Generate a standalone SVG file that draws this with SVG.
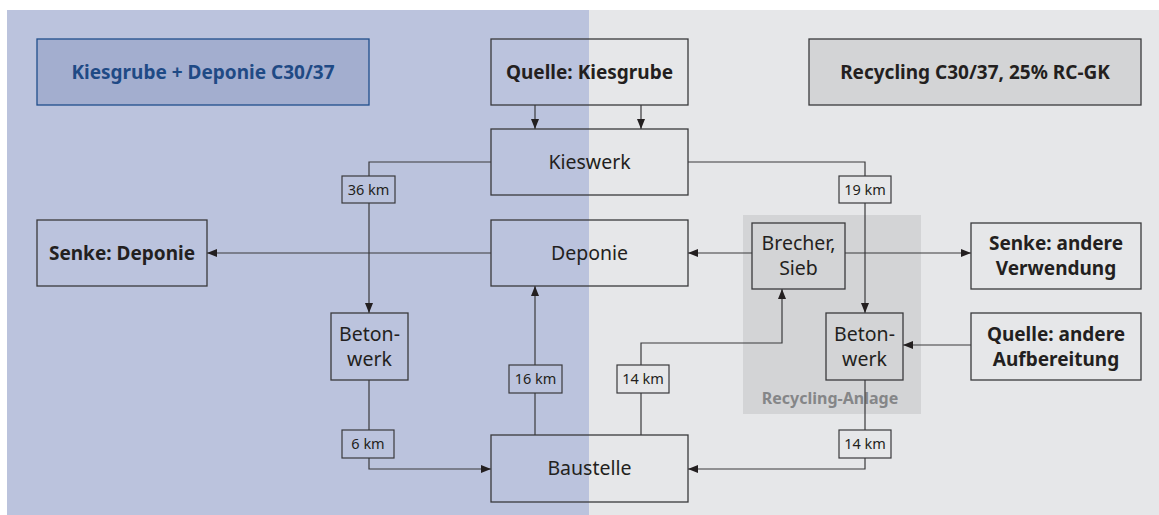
<svg xmlns="http://www.w3.org/2000/svg" width="1159" height="515" viewBox="0 0 1159 515">
<defs>
<marker id="arr" viewBox="0 0 10 10" refX="10" refY="5" markerWidth="10" markerHeight="10" markerUnits="userSpaceOnUse" orient="auto">
<path d="M0,1 L10,5 L0,9 Z" fill="#231f20"/>
</marker>
<style>
.box{fill:none;stroke:#3a3a3c;stroke-width:1.3}
.lbl{fill:#e6e7e9;stroke:#3a3a3c;stroke-width:1.2}
.lblb{fill:#bbc3dd;stroke:#3a3a3c;stroke-width:1.2}
.con{fill:none;stroke:#3a3a3c;stroke-width:1.2}
.t{font-family:"Noto Sans","Open Sans",sans-serif;font-size:19.5px;fill:#231f20;text-anchor:middle}
.b{font-family:"Noto Sans","Open Sans",sans-serif;font-size:19px;font-weight:bold;fill:#231f20;text-anchor:middle}
.s{font-family:"Noto Sans","Open Sans",sans-serif;font-size:14.5px;fill:#231f20;text-anchor:middle}
</style>
</defs>
<rect x="0" y="0" width="1159" height="515" fill="#ffffff"/>
<rect x="7" y="10" width="582" height="505" fill="#bbc3dd"/>
<rect x="589" y="10" width="570" height="505" fill="#e6e7e9"/>
<g id="recycling-anlage">
<rect x="743" y="215" width="178" height="199" fill="#d3d4d6"/>
<text x="830" y="404" class="b" style="fill:#858688;font-size:16px">Recycling-Anlage</text>
</g>
<g id="connectors">
<path class="con" d="M535,105 V129" marker-end="url(#arr)"/>
<path class="con" d="M641,105 V129" marker-end="url(#arr)"/>
<path class="con" d="M491,162 H369 V313" marker-end="url(#arr)"/>
<path class="con" d="M491,253 H207" marker-end="url(#arr)"/>
<path class="con" d="M369,380 V469 H491" marker-end="url(#arr)"/>
<path class="con" d="M535,435 V286" marker-end="url(#arr)"/>
<path class="con" d="M641,435 V343 H782 V289" marker-end="url(#arr)"/>
<path class="con" d="M688,162 H865 V313" marker-end="url(#arr)"/>
<path class="con" d="M752,253 H688" marker-end="url(#arr)"/>
<path class="con" d="M845,253 H971" marker-end="url(#arr)"/>
<path class="con" d="M971,345 H903" marker-end="url(#arr)"/>
<path class="con" d="M865,380 V469 H688" marker-end="url(#arr)"/>
<rect class="lblb" x="342" y="176" width="53" height="27"/>
<text class="s" x="368.5" y="195">36 km</text>
<rect class="lbl" x="839" y="176" width="52" height="27"/>
<text class="s" x="865" y="195">19 km</text>
<rect class="lblb" x="342" y="430" width="52" height="28"/>
<text class="s" x="368" y="449">6 km</text>
<rect class="lblb" x="509" y="365" width="53" height="28"/>
<text class="s" x="535.5" y="384">16 km</text>
<rect class="lbl" x="617" y="365" width="52" height="28"/>
<text class="s" x="643" y="384">14 km</text>
<rect class="lbl" x="839" y="430" width="52" height="28"/>
<text class="s" x="865" y="449">14 km</text>
</g>
<g id="title-left">
<rect x="37" y="39" width="332" height="66" fill="#a3aecf" stroke="#1f4e8c" stroke-width="1.3"/>
<text class="b" x="203" y="79" style="fill:#1f4a85">Kiesgrube + Deponie C30/37</text>
</g>
<g id="title-right">
<rect x="809" y="39" width="332" height="66" fill="#d3d4d6" stroke="#3a3a3c" stroke-width="1.3"/>
<text class="b" x="975" y="79">Recycling C30/37, 25% RC-GK</text>
</g>
<g id="quelle-kiesgrube">
<rect class="box" x="491" y="39" width="197" height="66"/>
<text class="b" x="589.5" y="79">Quelle: Kiesgrube</text>
</g>
<g id="kieswerk">
<rect class="box" x="491" y="129" width="197" height="66"/>
<text class="t" x="589.5" y="169">Kieswerk</text>
</g>
<g id="deponie">
<rect class="box" x="491" y="220" width="197" height="66"/>
<text class="t" x="589.5" y="260">Deponie</text>
</g>
<g id="senke-deponie">
<rect class="box" x="37" y="220" width="170" height="66"/>
<text class="b" x="122" y="260">Senke: Deponie</text>
</g>
<g id="betonwerk-left">
<rect class="box" x="331" y="313" width="77" height="67"/>
<text class="t" x="369.5" y="341">Beton-</text>
<text class="t" x="369.5" y="366">werk</text>
</g>
<g id="baustelle">
<rect class="box" x="491" y="435" width="197" height="67"/>
<text class="t" x="589.5" y="475">Baustelle</text>
</g>
<g id="brecher-sieb">
<rect class="box" x="752" y="223" width="93" height="66"/>
<text class="t" x="798.5" y="250">Brecher,</text>
<text class="t" x="798.5" y="275">Sieb</text>
</g>
<g id="betonwerk-right">
<rect class="box" x="826" y="313" width="77" height="67"/>
<text class="t" x="864.5" y="341">Beton-</text>
<text class="t" x="864.5" y="366">werk</text>
</g>
<g id="senke-andere">
<rect class="box" x="971" y="223" width="170" height="66"/>
<text class="b" x="1056" y="250">Senke: andere</text>
<text class="b" x="1056" y="275">Verwendung</text>
</g>
<g id="quelle-andere">
<rect class="box" x="971" y="313" width="170" height="67"/>
<text class="b" x="1056" y="341">Quelle: andere</text>
<text class="b" x="1056" y="366">Aufbereitung</text>
</g>
</svg>
